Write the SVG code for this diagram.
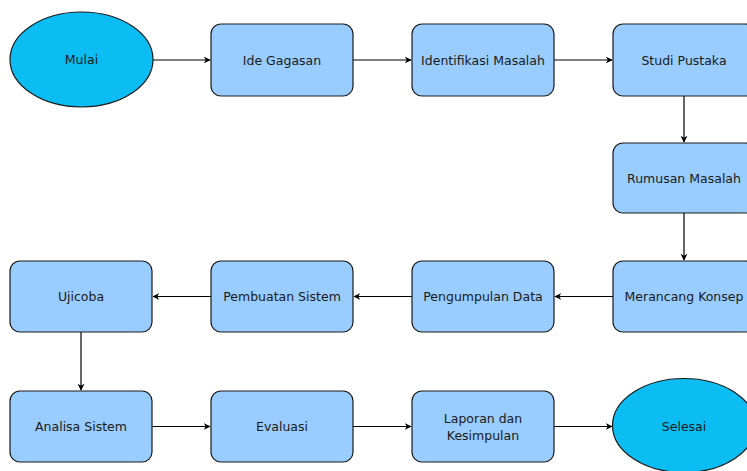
<svg xmlns="http://www.w3.org/2000/svg" width="747" height="471" viewBox="0 0 747 471">
<style>
.box{fill:#99ccff;stroke:#1a1a1a;stroke-width:1.2}
.oval{fill:#0cbdf4;stroke:#1a1a1a;stroke-width:1.2}
.t{font-family:"DejaVu Sans","Liberation Sans",Arial,sans-serif;font-size:12.5px;fill:#1a1a1a;text-anchor:middle;dominant-baseline:central}
.c{fill:none;stroke:#000;stroke-width:1.2;marker-end:url(#ah)}
</style>
<defs>
<marker id="ah" viewBox="0 0 10 10" refX="9" refY="5" markerWidth="7" markerHeight="7" markerUnits="userSpaceOnUse" orient="auto">
<path d="M0,0 L10,5 L0,10 L3,5 Z" fill="#000"/>
</marker>
</defs>
<rect width="747" height="471" fill="#fff"/>
<g id="connectors">
<path class="c" d="M153,60 H210"/>
<path class="c" d="M353,60 H411"/>
<path class="c" d="M554,60 H612"/>
<path class="c" d="M684,96 V142"/>
<path class="c" d="M684,213 V260"/>
<path class="c" d="M613,296.5 H555"/>
<path class="c" d="M412,296.5 H354"/>
<path class="c" d="M211,296.5 H153"/>
<path class="c" d="M81,332 V390"/>
<path class="c" d="M152,426.5 H210"/>
<path class="c" d="M353,426.5 H411"/>
<path class="c" d="M554,426.5 H612"/>
</g>
<g id="mulai"><ellipse class="oval" cx="81.5" cy="59.5" rx="71.5" ry="47.5"/><text class="t" x="81.5" y="59.5">Mulai</text></g>
<g id="ide"><rect class="box" x="211" y="24" width="142" height="72" rx="10"/><text class="t" x="282" y="60">Ide Gagasan</text></g>
<g id="identifikasi"><rect class="box" x="412" y="24" width="142" height="72" rx="10"/><text class="t" x="483" y="60">Identifikasi Masalah</text></g>
<g id="studi"><rect class="box" x="613" y="24" width="142" height="72" rx="10"/><text class="t" x="684" y="60">Studi Pustaka</text></g>
<g id="rumusan"><rect class="box" x="613" y="143" width="142" height="70" rx="10"/><text class="t" x="684" y="178">Rumusan Masalah</text></g>
<g id="merancang"><rect class="box" x="613" y="261" width="142" height="71" rx="10"/><text class="t" x="684" y="296.5">Merancang Konsep</text></g>
<g id="pengumpulan"><rect class="box" x="412" y="261" width="142" height="71" rx="10"/><text class="t" x="483" y="296.5">Pengumpulan Data</text></g>
<g id="pembuatan"><rect class="box" x="211" y="261" width="142" height="71" rx="10"/><text class="t" x="282" y="296.5">Pembuatan Sistem</text></g>
<g id="ujicoba"><rect class="box" x="10" y="261" width="142" height="71" rx="10"/><text class="t" x="81" y="296.5">Ujicoba</text></g>
<g id="analisa"><rect class="box" x="10" y="391" width="142" height="71" rx="10"/><text class="t" x="81" y="426.5">Analisa Sistem</text></g>
<g id="evaluasi"><rect class="box" x="211" y="391" width="142" height="71" rx="10"/><text class="t" x="282" y="426.5">Evaluasi</text></g>
<g id="laporan"><rect class="box" x="412" y="391" width="142" height="71" rx="10"/><text class="t" x="483" y="418">Laporan dan</text><text class="t" x="483" y="435">Kesimpulan</text></g>
<g id="selesai"><ellipse class="oval" cx="684" cy="425.5" rx="71.5" ry="47"/><text class="t" x="684" y="426.5">Selesai</text></g>
</svg>
